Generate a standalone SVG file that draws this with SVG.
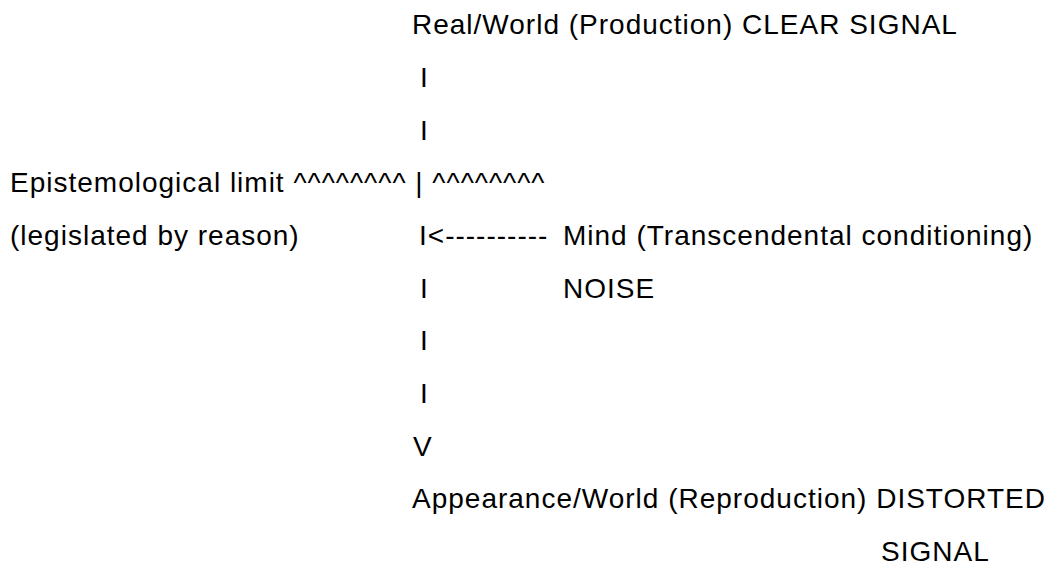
<svg xmlns="http://www.w3.org/2000/svg" width="1055" height="568" viewBox="0 0 1055 568">
<style>
text{font-family:"Liberation Sans",Arial,sans-serif;font-size:28px;letter-spacing:1px;fill:#000;white-space:pre}
</style>
<rect width="1055" height="568" fill="#fff"/>
<g id="real-world"><text x="412" y="34">Real/World (Production) CLEAR SIGNAL</text></g>
<g id="epistemological-limit"><text x="10" y="192" xml:space="preserve">Epistemological limit ^^^^^^^^ | ^^^^^^^^</text>
<text x="10" y="245">(legislated by reason)</text></g>
<g id="mind"><text x="563" y="245">Mind (Transcendental conditioning)</text>
<text x="563" y="297.5">NOISE</text></g>
<g id="appearance-world"><text x="412" y="508">Appearance/World (Reproduction) DISTORTED</text>
<text x="881" y="561">SIGNAL</text></g>
<g id="connectors">
<text x="420" y="87">I</text>
<text x="420" y="139.5">I</text>
<text x="419" y="245">I&lt;----------</text>
<text x="420" y="297.5">I</text>
<text x="420" y="350">I</text>
<text x="420" y="403">I</text>
<text x="413" y="455.5">V</text>
</g>
</svg>
